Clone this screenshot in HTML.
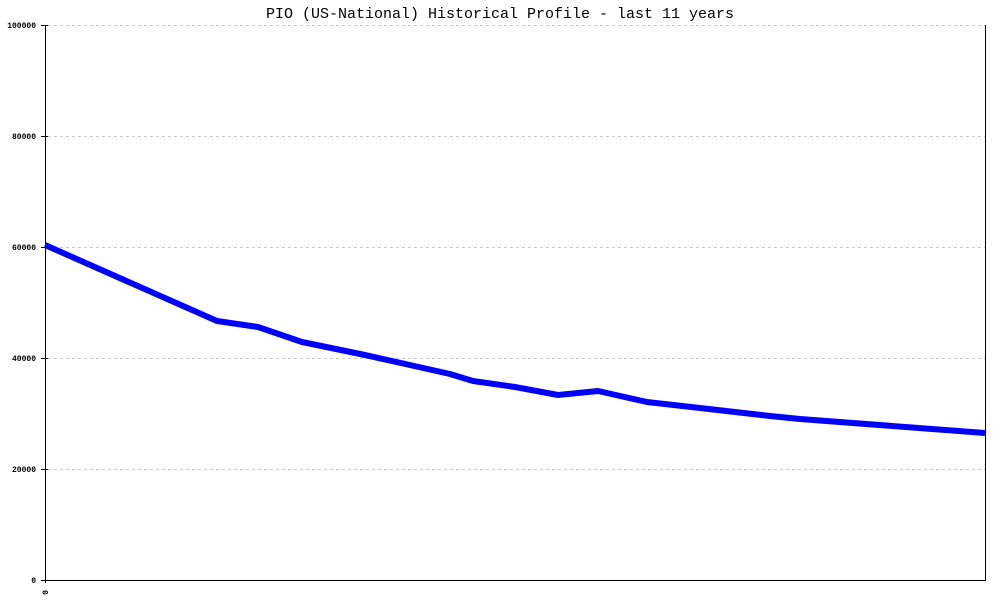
<!DOCTYPE html><html><head><style>body{margin:0;background:#fff}</style></head><body>
<svg width="1000" height="600" xmlns="http://www.w3.org/2000/svg" font-family="Liberation Mono, monospace">
<rect width="1000" height="600" fill="#fff"/>
<text x="500" y="18" font-size="15" text-anchor="middle" fill="#000">PIO (US-National) Historical Profile - last 11 years</text>
<g stroke="#c8c8c8" stroke-dasharray="3,3" stroke-width="1">
<line x1="48" y1="25.5" x2="985" y2="25.5"/><line x1="48" y1="136.5" x2="985" y2="136.5"/><line x1="48" y1="247.5" x2="985" y2="247.5"/><line x1="48" y1="358.5" x2="985" y2="358.5"/><line x1="48" y1="469.5" x2="985" y2="469.5"/>
</g>
<g stroke="#000" stroke-width="1">
<line x1="45.5" y1="25" x2="45.5" y2="583"/><line x1="985.5" y1="25" x2="985.5" y2="580"/><line x1="45" y1="580.5" x2="986" y2="580.5"/>
<line x1="41" y1="25.5" x2="48" y2="25.5"/><line x1="41" y1="136.5" x2="48" y2="136.5"/><line x1="41" y1="247.5" x2="48" y2="247.5"/><line x1="41" y1="358.5" x2="48" y2="358.5"/><line x1="41" y1="469.5" x2="48" y2="469.5"/><line x1="41" y1="580.5" x2="48" y2="580.5"/>
</g>
<g font-size="8" font-weight="bold" text-anchor="end" fill="#000">
<text x="36" y="28">100000</text><text x="36" y="139">80000</text><text x="36" y="250">60000</text><text x="36" y="361">40000</text><text x="36" y="472">20000</text><text x="36" y="583">0</text>
</g>
<text x="0" y="0" font-size="8" font-weight="bold" fill="#000" transform="translate(48,590) rotate(-90)" text-anchor="end">0</text>
<polyline fill="none" stroke="#0000ff" stroke-width="6" stroke-linejoin="round" points="45,245 217,321 258,327 302,342 365,355 450,374 473,381 515,387 558,395 598,391 647,402 700,408 770,416 800,419 985,433"/>
</svg></body></html>
